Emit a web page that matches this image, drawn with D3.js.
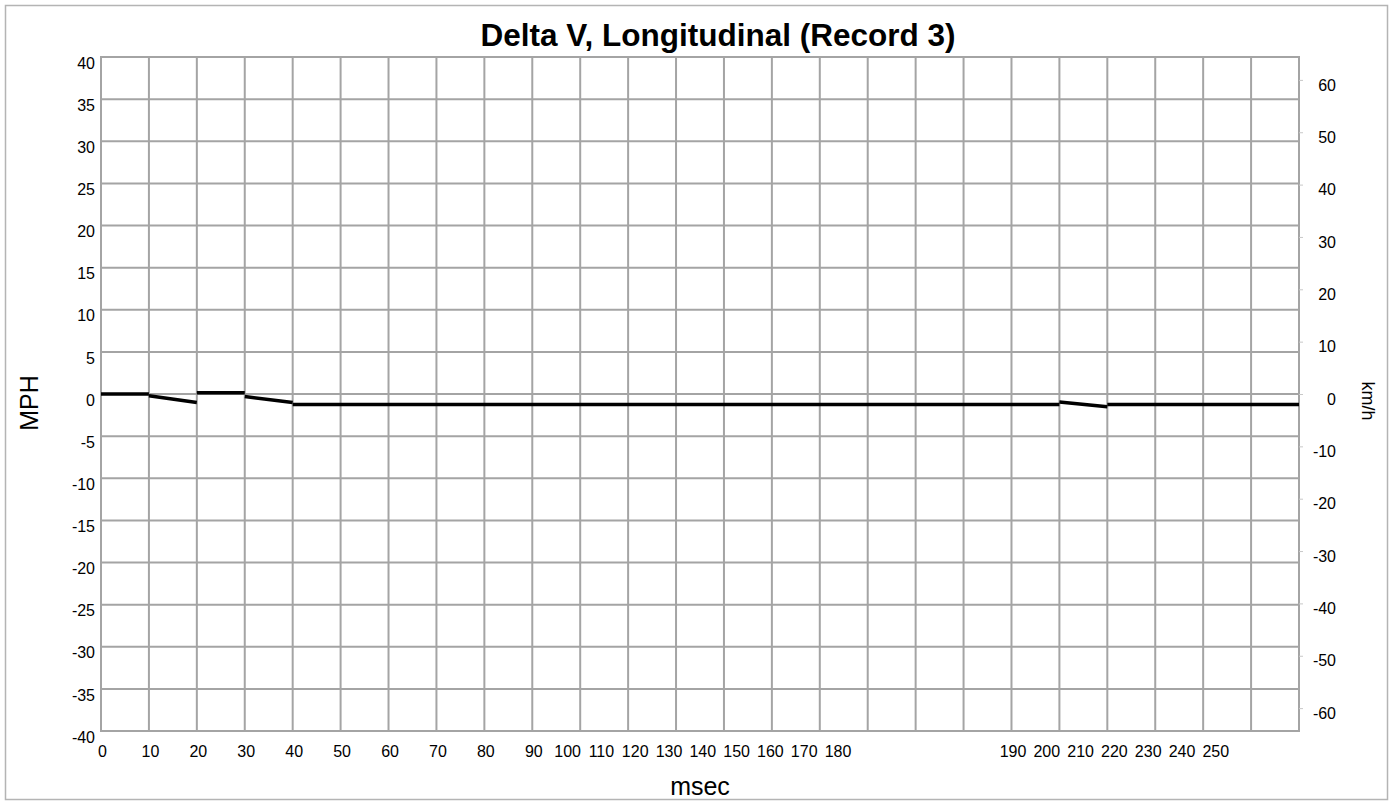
<!DOCTYPE html>
<html>
<head>
<meta charset="utf-8">
<script src="https://cdn.jsdelivr.net/npm/d3@7"></script>
<style>
  html, body { margin: 0; padding: 0; background: #fff; }
  svg { display: block; font-family: Arial, "Liberation Sans", sans-serif; }
</style>
</head>
<body>
<svg id="chart" width="1393" height="802"></svg>
<script>
// Delta V trace, drawn as separate recorded segments (msec -> MPH)
const segMsecStart = [0, 10, 20, 30, 40, 200, 210];
const segMsecEnd   = [10, 20, 30, 40, 200, 210, 250];
const segMphStart  = [0, -0.2, 0.15, -0.3, -1.25, -0.95, -1.25];
const segMphEnd    = [0, -1.0, 0.15, -1.0, -1.25, -1.5, -1.25];

// Axis ticks
const msecTicks = d3.range(0, 251, 10);
const msecLabelRuns = [[0, 80], [90, 180], [190, 250]];
const mphTicks = d3.range(-40, 41, 5);
const kmhTicks = d3.range(-60, 61, 10);

const title = "Delta V, Longitudinal (Record 3)";
const MPH_TO_KMH = 1.609344;

const W = 1393, H = 802;
const plot = { left: 101, right: 1299, top: 57, bottom: 731 };
const FONT = "Arial, 'Liberation Sans', sans-serif";
const plain = d => String(d);

const svg = d3.select("#chart");
svg.append("rect").attr("width", W).attr("height", H).attr("fill", "#fff");
svg.append("rect")
  .attr("x", 5.5).attr("y", 5.5).attr("width", 1382).attr("height", 794)
  .attr("fill", "none").attr("stroke", "#b4b4b4").attr("stroke-width", 1.5);

const x = d3.scaleLinear().domain([0, 250]).range([plot.left, plot.right]);
const yL = d3.scaleLinear().domain([-40, 40]).range([plot.bottom, plot.top]);
const yR = d3.scaleLinear().domain([-40 * MPH_TO_KMH, 40 * MPH_TO_KMH]).range([plot.bottom, plot.top]);

// Grid
const grid = svg.append("g").attr("stroke", "#a4a4a4").attr("stroke-width", 2);
grid.selectAll("line.v").data(msecTicks).join("line").attr("class", "v")
  .attr("x1", d => x(d)).attr("x2", d => x(d))
  .attr("y1", plot.top).attr("y2", plot.bottom);
grid.selectAll("line.h").data(mphTicks).join("line").attr("class", "h")
  .attr("x1", plot.left - 1).attr("x2", plot.right + 1)
  .attr("y1", d => yL(d)).attr("y2", d => yL(d));

// Left axis (MPH)
const gL = svg.append("g").attr("transform", `translate(${plot.left},0)`)
  .call(d3.axisLeft(yL).tickValues(mphTicks).tickFormat(plain).tickSize(0).tickPadding(6));
gL.select(".domain").remove();
gL.selectAll("text").attr("y", 6).attr("font-size", 16).attr("fill", "#000")
  .attr("font-family", FONT);

// Right axis (km/h)
const gR = svg.append("g").attr("transform", `translate(${plot.right},0)`)
  .call(d3.axisRight(yR).tickValues(kmhTicks).tickFormat(plain).tickSize(4).tickPadding(33));
gR.select(".domain").remove();
gR.selectAll("line").attr("stroke", "#c8c8c8").attr("stroke-width", 1);
gR.selectAll("text").attr("text-anchor", "end").attr("y", 5).attr("font-size", 16)
  .attr("fill", "#000").attr("font-family", FONT);

// Bottom axis labels: each run starts at its tick, later labels packed tightly
const packedPitch = 33.8;
const labelX = {};
msecLabelRuns.forEach(([a, b], i) => {
  const pitch = i === 0 ? x(10) - x(0) : packedPitch;
  d3.range(a, b + 1, 10).forEach((v, k) => { labelX[v] = x(a) + k * pitch; });
});
const gB = svg.append("g").attr("transform", `translate(0,${plot.bottom})`)
  .call(d3.axisBottom(x).tickValues(msecTicks.filter(v => v in labelX)).tickFormat(plain).tickSize(0).tickPadding(15));
gB.select(".domain").remove();
gB.selectAll(".tick").attr("transform", d => `translate(${labelX[d] + 1.5},0)`);
gB.selectAll("text").attr("font-size", 16).attr("fill", "#000")
  .attr("font-family", FONT);

// Trace
const line = d3.line().x(d => x(d[0])).y(d => yL(d[1]));
const segs = segMsecStart.map((s, i) => [[s, segMphStart[i]], [segMsecEnd[i], segMphEnd[i]]]);
svg.append("g").selectAll("path").data(segs).join("path")
  .attr("d", line).attr("fill", "none").attr("stroke", "#000")
  .attr("stroke-width", 3.5).attr("stroke-linecap", "butt");

// Titles
svg.append("text").attr("x", 718).attr("y", 46).attr("text-anchor", "middle")
  .attr("font-size", 31.5).attr("font-weight", "bold").text(title);
svg.append("text").attr("x", 700).attr("y", 795).attr("text-anchor", "middle")
  .attr("font-size", 25).text("msec");
svg.append("text").attr("transform", "translate(38,403) rotate(-90)")
  .attr("text-anchor", "middle").attr("font-size", 25).text("MPH");
svg.append("text").attr("transform", "translate(1362,401) rotate(90)")
  .attr("text-anchor", "middle").attr("font-size", 18).text("km/h");
</script>
</body>
</html>
